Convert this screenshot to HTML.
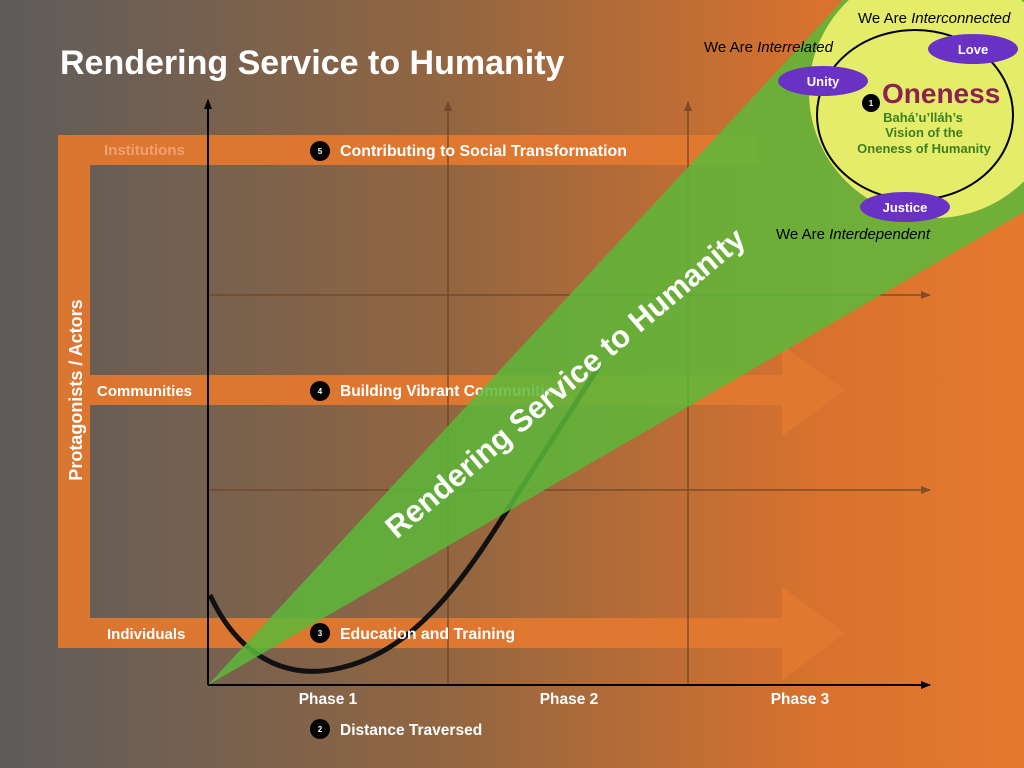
<!DOCTYPE html>
<html><head><meta charset="utf-8"><style>
html,body{margin:0;padding:0;width:1024px;height:768px;overflow:hidden}
svg{display:block}
text{font-family:"Liberation Sans",sans-serif;font-weight:bold}
</style></head><body>
<svg width="1024" height="768" viewBox="0 0 1024 768" xmlns="http://www.w3.org/2000/svg">
<defs>
<linearGradient id="bg" x1="0" y1="0" x2="1" y2="0">
<stop offset="0" stop-color="#5e5c5a"/><stop offset="0.45" stop-color="#946640"/><stop offset="0.8" stop-color="#d8722e"/><stop offset="1" stop-color="#e57a2e"/>
</linearGradient>
<clipPath id="cone"><polygon points="208,685 843,0 1024,0 1024,212"/></clipPath>
<marker id="ah" markerWidth="10" markerHeight="8" refX="9" refY="4" orient="auto" markerUnits="userSpaceOnUse"><path d="M0,0 L10,4 L0,8z" fill="#000"/></marker>
<marker id="ah2" markerWidth="10" markerHeight="8" refX="9" refY="4" orient="auto" markerUnits="userSpaceOnUse"><path d="M0,0 L10,4 L0,8z" fill="#6b4426"/></marker>
</defs>
<rect width="1024" height="768" fill="url(#bg)"/>
<text x="60" y="74" font-size="34" fill="#fff">Rendering Service to Humanity</text>
<g fill="#e2782f" opacity="0.95">
<rect x="58" y="135" width="32" height="513"/>
<rect x="58" y="135" width="700" height="30"/>
<polygon points="58,375 782,375 782,345 845,390 782,436 782,405 58,405"/>
<polygon points="58,618 782,618 782,587 845,633 782,680 782,648 58,648"/>
</g>
<g stroke="#6b4426" stroke-width="1.5" opacity="0.8">
<line x1="448" y1="685" x2="448" y2="102" marker-end="url(#ah2)"/>
<line x1="688" y1="685" x2="688" y2="102" marker-end="url(#ah2)"/>
<line x1="208" y1="295" x2="930" y2="295" marker-end="url(#ah2)"/>
<line x1="208" y1="490" x2="930" y2="490" marker-end="url(#ah2)"/>
</g>
<line x1="208" y1="685" x2="208" y2="100" stroke="#000" stroke-width="2" marker-end="url(#ah)"/>
<line x1="208" y1="685" x2="930" y2="685" stroke="#000" stroke-width="2" marker-end="url(#ah)"/>
<path d="M210,595 C240,660 290,680 340,668 C420,650 470,570 520,490 L600,365" fill="none" stroke="#111" stroke-width="5"/>
<text transform="translate(82,390) rotate(-90)" text-anchor="middle" font-size="18" fill="#fff">Protagonists / Actors</text>
<text x="104" y="155" font-size="15" fill="#f0a070">Institutions</text>
<text x="97" y="396" font-size="15" fill="#fff">Communities</text>
<text x="107" y="639" font-size="15" fill="#fff">Individuals</text>
<g font-size="15.5" fill="#fff">
<text x="340" y="156" textLength="287" lengthAdjust="spacingAndGlyphs">Contributing to Social Transformation</text>
<text x="340" y="396">Building Vibrant Communities</text>
<text x="340" y="639" textLength="175" lengthAdjust="spacingAndGlyphs">Education and Training</text>
<text x="340" y="735">Distance Traversed</text>
<text x="328" y="704" text-anchor="middle">Phase 1</text>
<text x="569" y="704" text-anchor="middle">Phase 2</text>
<text x="800" y="704" text-anchor="middle">Phase 3</text>
</g>
<g font-size="8" fill="#fff" text-anchor="middle">
<circle cx="320" cy="151" r="10" fill="#000"/><text x="320" y="154">5</text>
<circle cx="320" cy="391" r="10" fill="#000"/><text x="320" y="394">4</text>
<circle cx="320" cy="633" r="10" fill="#000"/><text x="320" y="636">3</text>
<circle cx="320" cy="729" r="10" fill="#000"/><text x="320" y="732">2</text>
</g>
<polygon points="208,685 843,0 1024,0 1024,212" fill="#5cb83a" opacity="0.85"/>
<circle cx="935" cy="92" r="126" fill="#e4ec6a" clip-path="url(#cone)"/>
<text transform="translate(572,391) rotate(-40.3)" text-anchor="middle" font-size="31" fill="#fff">Rendering Service to Humanity</text>
<ellipse cx="915" cy="115" rx="98" ry="85" fill="none" stroke="#000" stroke-width="2"/>
<g fill="#6a32c4">
<ellipse cx="823" cy="81" rx="45" ry="15"/>
<ellipse cx="973" cy="49" rx="45" ry="15"/>
<ellipse cx="905" cy="207" rx="45" ry="15"/>
</g>
<g font-size="13" fill="#fff" text-anchor="middle">
<text x="823" y="86">Unity</text><text x="973" y="54">Love</text><text x="905" y="212">Justice</text>
</g>
<g font-size="15" fill="#000">
<text x="704" y="52" style="font-weight:normal">We Are <tspan font-style="italic">Interrelated</tspan></text>
<text x="858" y="23" style="font-weight:normal">We Are <tspan font-style="italic">Interconnected</tspan></text>
<text x="776" y="239" style="font-weight:normal">We Are <tspan font-style="italic">Interdependent</tspan></text>
</g>
<circle cx="871" cy="103" r="9" fill="#000"/><text x="871" y="106" font-size="8" fill="#fff" text-anchor="middle">1</text>
<text x="882" y="103" font-size="28" fill="#8a2350">Oneness</text>
<g font-size="13" fill="#3f7f20" text-anchor="middle">
<text x="923" y="122">Bahá’u’lláh’s</text>
<text x="924" y="137">Vision of the</text>
<text x="924" y="153">Oneness of Humanity</text>
</g>
</svg>
</body></html>
